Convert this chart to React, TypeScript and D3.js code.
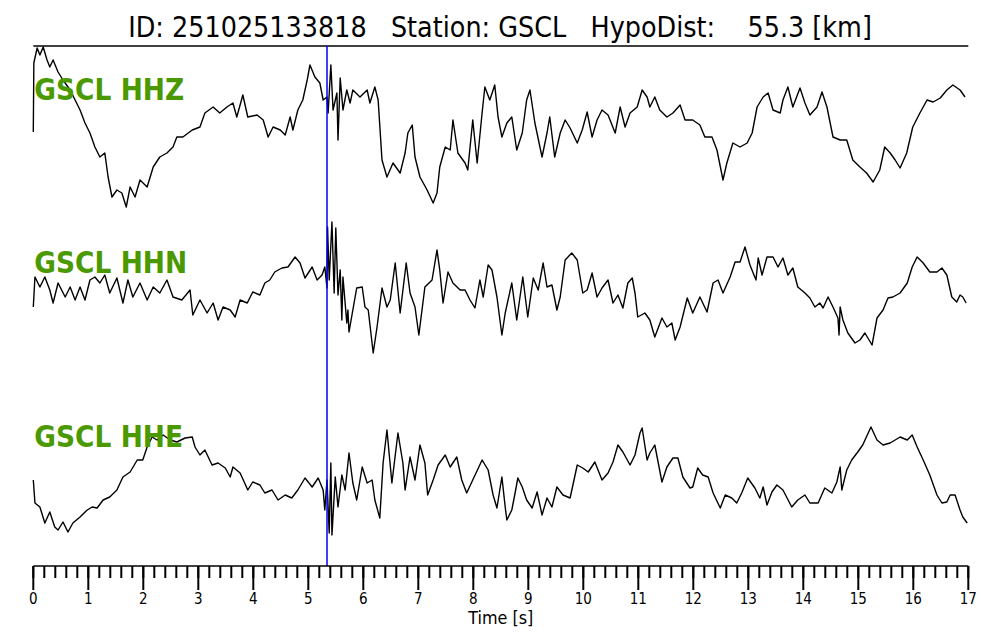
import React from "react";
import * as d3 from "d3";

// ---- Data (time [s], amplitude [counts, arbitrary]) ----
const titleText = "ID: 251025133818   Station: GSCL   HypoDist:    55.3 [km]";
const pickTime = 5.34;
const channels = ["GSCL HHZ", "GSCL HHN", "GSCL HHE"];
const majorTicks = d3.range(0, 18, 1);
const minorTicks = d3.range(0, 17.001, 0.2);

const hhz: [number, number][] = [
  [0, -7], [0.01, 62], [0.07, 77], [0.12, 70], [0.18, 78], [0.25, 65], [0.3, 58], [0.36, 65],
  [0.45, 53], [0.54, 45], [0.67, 35], [0.76, 25], [0.85, 15], [0.94, 2], [1.03, -8], [1.12, -22],
  [1.21, -32], [1.3, -28], [1.36, -52], [1.43, -72], [1.52, -65], [1.61, -68], [1.69, -82], [1.76, -62],
  [1.85, -72], [1.94, -55], [2.07, -62], [2.18, -42], [2.3, -32], [2.43, -28], [2.54, -22], [2.61, -12],
  [2.72, -12], [2.89, -5], [3.03, -2], [3.12, 12], [3.27, 18], [3.39, 12], [3.52, 18], [3.63, 22],
  [3.7, 8], [3.81, 30], [3.9, 8], [4.07, 10], [4.18, 5], [4.27, -12], [4.36, -2], [4.49, -5],
  [4.58, -10], [4.67, 8], [4.72, -5], [4.81, 15], [4.9, 25], [4.98, 45], [5.03, 60], [5.12, 48],
  [5.21, 42], [5.27, 25], [5.34, 28], [5.36, 12], [5.41, 60], [5.45, 15], [5.52, 32], [5.54, -15],
  [5.58, 47], [5.63, 15], [5.7, 35], [5.76, 22], [5.81, 35], [5.94, 28], [6.07, 35], [6.12, 22],
  [6.21, 38], [6.27, 25], [6.34, -35], [6.43, -52], [6.54, -38], [6.67, -48], [6.76, -28], [6.81, -8],
  [6.89, 0], [6.94, -32], [7.03, -52], [7.16, -65], [7.27, -78], [7.34, -68], [7.39, -42], [7.49, -22],
  [7.58, -25], [7.63, 5], [7.72, -28], [7.85, -38], [7.9, -45], [7.99, 5], [8.07, -38], [8.16, 12],
  [8.21, 38], [8.3, 25], [8.39, 40], [8.45, 8], [8.52, -12], [8.61, 2], [8.7, 8], [8.79, -25],
  [8.89, -8], [8.97, 25], [9.03, 35], [9.12, 2], [9.25, -32], [9.34, -8], [9.39, 8], [9.48, -32],
  [9.58, -8], [9.67, 5], [9.76, -3], [9.89, -18], [9.98, -5], [10.07, 13], [10.16, -12], [10.25, 5],
  [10.34, 15], [10.45, 10], [10.58, -8], [10.67, 18], [10.76, -2], [10.85, 12], [10.98, 18], [11.07, 35],
  [11.16, 28], [11.21, 18], [11.3, 28], [11.39, 15], [11.52, 8], [11.63, 12], [11.76, 20], [11.85, 5],
  [11.99, 5], [12.12, 0], [12.21, -12], [12.34, -12], [12.43, -25], [12.54, -55], [12.61, -38], [12.72, -18],
  [12.85, -22], [12.98, -18], [13.07, -8], [13.16, 18], [13.27, 28], [13.36, 32], [13.45, 15], [13.58, 12],
  [13.63, 25], [13.72, 38], [13.81, 18], [13.94, 37], [14.03, 22], [14.12, 10], [14.25, 18], [14.34, 33],
  [14.43, 18], [14.54, -12], [14.67, -15], [14.79, -15], [14.9, -35], [15.03, -42], [15.15, -48], [15.27, -57],
  [15.39, -45], [15.48, -22], [15.58, -28], [15.67, -35], [15.76, -43], [15.88, -28], [15.99, -2], [16.12, 12],
  [16.25, 25], [16.36, 23], [16.49, 27], [16.61, 35], [16.72, 40], [16.85, 35], [16.94, 28],
];

const hhn: [number, number][] = [
  [0, -12], [0.03, 18], [0.12, 8], [0.21, 18], [0.3, 5], [0.36, -8], [0.45, 12], [0.58, -2],
  [0.67, 8], [0.76, -5], [0.85, 8], [0.94, -5], [1.03, 15], [1.12, 18], [1.21, 12], [1.3, 20],
  [1.39, 2], [1.52, 17], [1.63, -8], [1.72, 15], [1.81, -2], [1.94, 12], [2.07, -5], [2.18, 8],
  [2.3, 2], [2.43, 15], [2.54, -2], [2.7, -5], [2.85, 5], [2.9, -20], [3.03, -5], [3.16, -18],
  [3.27, -8], [3.36, -25], [3.45, -12], [3.58, -15], [3.67, -22], [3.76, -5], [3.89, -8], [3.99, 3],
  [4.12, 0], [4.21, 12], [4.3, 15], [4.39, 23], [4.52, 27], [4.63, 28], [4.76, 38], [4.85, 32],
  [4.94, 17], [5.07, 28], [5.16, 15], [5.25, 20], [5.3, 28], [5.34, 7], [5.35, 68], [5.38, 15],
  [5.43, 73], [5.47, 2], [5.5, 67], [5.54, 0], [5.58, 25], [5.61, -25], [5.63, 18], [5.7, -28],
  [5.72, -15], [5.74, -37], [5.81, -15], [5.88, 7], [5.98, 8], [6.03, -12], [6.09, -15], [6.18, -58],
  [6.25, -32], [6.34, 7], [6.43, -12], [6.49, -5], [6.58, 32], [6.67, -18], [6.78, 32], [6.85, 2],
  [6.94, -12], [7.01, -40], [7.12, 8], [7.25, 15], [7.34, 45], [7.39, 25], [7.45, -8], [7.54, 23],
  [7.63, 12], [7.76, 5], [7.85, 5], [7.94, -5], [8.03, -13], [8.12, 15], [8.18, -2], [8.27, 30],
  [8.34, 25], [8.43, -2], [8.52, -40], [8.58, -18], [8.7, 12], [8.79, -25], [8.9, 18], [8.99, -22],
  [9.09, 17], [9.18, 5], [9.27, 32], [9.34, 8], [9.43, 10], [9.52, -15], [9.58, -2], [9.67, 35],
  [9.79, 42], [9.89, 35], [9.99, 2], [10.07, 5], [10.16, 22], [10.25, -2], [10.34, 7], [10.45, 15],
  [10.54, -8], [10.63, 0], [10.72, -13], [10.81, 12], [10.89, 17], [10.94, 2], [10.99, -22], [11.12, -18],
  [11.21, -25], [11.3, -42], [11.43, -23], [11.52, -32], [11.61, -28], [11.67, -45], [11.76, -32], [11.89, -3],
  [11.99, -18], [12.12, -2], [12.25, -17], [12.36, 12], [12.45, 15], [12.54, 2], [12.67, 18], [12.76, 33],
  [12.85, 33], [12.94, 48], [13.03, 30], [13.14, 15], [13.18, 37], [13.25, 20], [13.34, 38], [13.45, 38],
  [13.54, 28], [13.63, 37], [13.72, 20], [13.81, 27], [13.9, 8], [14.03, 2], [14.12, -3], [14.21, -12],
  [14.3, -8], [14.36, -13], [14.45, -2], [14.54, -12], [14.63, -23], [14.65, -40], [14.67, -12], [14.72, -25],
  [14.81, -38], [14.94, -48], [15.03, -45], [15.12, -38], [15.25, -50], [15.34, -23], [15.45, -15], [15.54, -3],
  [15.63, -2], [15.76, 2], [15.89, 12], [15.98, 28], [16.07, 38], [16.18, 32], [16.3, 23], [16.43, 23],
  [16.52, 27], [16.61, 20], [16.7, -2], [16.79, -7], [16.85, 0], [16.9, -2], [16.96, -8],
];

const hhe: [number, number][] = [
  [0, -2], [0.03, -25], [0.12, -29], [0.21, -45], [0.3, -34], [0.39, -49], [0.45, -52], [0.54, -44],
  [0.63, -54], [0.72, -45], [0.85, -39], [0.98, -32], [1.07, -29], [1.16, -30], [1.27, -22], [1.39, -19],
  [1.52, -12], [1.63, 1], [1.76, 6], [1.89, 18], [1.99, 18], [2.07, 31], [2.16, 41], [2.25, 38],
  [2.36, 43], [2.49, 38], [2.61, 36], [2.76, 40], [2.89, 41], [2.94, 31], [3.03, 23], [3.12, 28],
  [3.25, 13], [3.36, 15], [3.49, 10], [3.58, 1], [3.63, 11], [3.76, 5], [3.9, -12], [3.99, -4],
  [4.12, -7], [4.21, -15], [4.34, -12], [4.45, -22], [4.58, -17], [4.7, -20], [4.81, -12], [4.94, 0],
  [5.07, -9], [5.18, 0], [5.27, -12], [5.3, -32], [5.34, -2], [5.38, -55], [5.41, 15], [5.43, -57],
  [5.49, 1], [5.54, -29], [5.61, 3], [5.67, -12], [5.74, 25], [5.81, -5], [5.88, -22], [5.98, 11],
  [6.07, -5], [6.16, -2], [6.21, -22], [6.3, -40], [6.36, 15], [6.43, 48], [6.52, -5], [6.63, 45],
  [6.72, 15], [6.76, -12], [6.85, 21], [6.94, -2], [7.03, 33], [7.12, 15], [7.17, -17], [7.27, -2],
  [7.36, 13], [7.49, 23], [7.58, 11], [7.7, 21], [7.79, -2], [7.88, -15], [7.99, -2], [8.16, 18],
  [8.27, 8], [8.36, -17], [8.43, -30], [8.49, -9], [8.52, 1], [8.58, -29], [8.61, -42], [8.7, -32],
  [8.76, -15], [8.81, 0], [8.89, -9], [8.97, -22], [9.07, -30], [9.16, -14], [9.25, -37], [9.34, -20],
  [9.43, -29], [9.52, -9], [9.63, -17], [9.76, -20], [9.89, 13], [9.99, 10], [10.09, 6], [10.21, 16],
  [10.34, -2], [10.45, 5], [10.54, 16], [10.63, 33], [10.72, 26], [10.85, 13], [10.94, 23], [11.03, 45],
  [11.07, 50], [11.16, 18], [11.21, 25], [11.3, 33], [11.43, -4], [11.52, 11], [11.63, 20], [11.72, 20],
  [11.81, 1], [11.94, -10], [11.99, -9], [12.08, 10], [12.17, 3], [12.27, 1], [12.36, -15], [12.49, -30],
  [12.58, -17], [12.7, -20], [12.79, -25], [12.88, -15], [12.99, 0], [13.12, -10], [13.21, -20], [13.27, -9],
  [13.34, -27], [13.43, -14], [13.52, -7], [13.63, -12], [13.79, -29], [13.9, -22], [14.03, -17], [14.12, -25],
  [14.27, -25], [14.39, -10], [14.52, -15], [14.61, -4], [14.67, 11], [14.7, -12], [14.79, 8], [14.88, 18],
  [14.99, 26], [15.08, 33], [15.23, 51], [15.34, 38], [15.45, 33], [15.58, 35], [15.76, 41], [15.89, 38],
  [15.98, 43], [16.07, 31], [16.18, 18], [16.3, 3], [16.43, -17], [16.52, -25], [16.61, -24], [16.67, -17],
  [16.76, -17], [16.85, -32], [16.9, -39], [16.98, -45],
];

const traces = [hhz, hhn, hhe];

// ---- Layout ----
const W = 1000;
const H = 640;
const left = 33.3;
const right = 968.3;
const topY = 46;
const axisY = 566;
const centers = [125, 295, 478];
const labelBaselines = [100, 273, 447];
const green = "#4a9900";
const vStretch = 1.12;

export default function App() {
  const x = d3.scaleLinear().domain([0, 17]).range([left, right]);
  const yScales = centers.map((c) => d3.scaleLinear().domain([-100, 100]).range([c + 100, c - 100]));

  return (
    <svg
      width={W}
      height={H}
      viewBox={`0 0 ${W} ${H}`}
      style={{ position: "absolute", left: 0, top: 0, background: "#fff" }}
      fontFamily="DejaVu Sans"
    >
      <rect x={0} y={0} width={W} height={H} fill="#fff" />
      {/* title */}
      <text
        transform={`translate(${W / 2},37) scale(1,${vStretch})`}
        textAnchor="middle"
        fontSize={25.5}
        fill="#000"
        style={{ whiteSpace: "pre" }}
      >
        {titleText}
      </text>
      {/* top spine */}
      <line x1={x(0)} x2={x(17)} y1={topY} y2={topY} stroke="#000" strokeWidth={1.5} />

      {/* traces */}
      {traces.map((tr, i) => {
        const line = d3
          .line<[number, number]>()
          .x((d) => x(d[0]))
          .y((d) => yScales[i](d[1]));
        return (
          <path key={i} d={line(tr) || ""} fill="none" stroke="#000" strokeWidth={1.4} strokeLinejoin="round" />
        );
      })}

      {/* pick line */}
      <line x1={x(pickTime)} x2={x(pickTime)} y1={topY} y2={axisY} stroke="#0000ff" strokeWidth={1.5} />

      {/* channel labels */}
      {channels.map((c, i) => (
        <text
          key={c}
          transform={`translate(${x(0) + 1},${labelBaselines[i]}) scale(1,${vStretch})`}
          fontSize={26.5}
          fontWeight="bold"
          fill={green}
        >
          {c}
        </text>
      ))}

      {/* bottom axis */}
      <line x1={x(0)} x2={x(17)} y1={axisY} y2={axisY} stroke="#000" strokeWidth={1.5} />
      {minorTicks.map((t, i) => (
        <line key={"m" + i} x1={x(t)} x2={x(t)} y1={axisY} y2={axisY + 12} stroke="#000" strokeWidth={2} />
      ))}
      {majorTicks.map((t) => (
        <g key={"M" + t}>
          <line x1={x(t)} x2={x(t)} y1={axisY} y2={axisY + 24} stroke="#000" strokeWidth={2} />
          <text
            transform={`translate(${x(t)},604) scale(1,${vStretch})`}
            textAnchor="middle"
            fontSize={13.5}
            fill="#000"
          >
            {t}
          </text>
        </g>
      ))}
      <text
        transform={`translate(${(x(0) + x(17)) / 2},623.5) scale(1,1.05)`}
        textAnchor="middle"
        fontSize={16}
        fill="#000"
      >
        Time [s]
      </text>
    </svg>
  );
}
